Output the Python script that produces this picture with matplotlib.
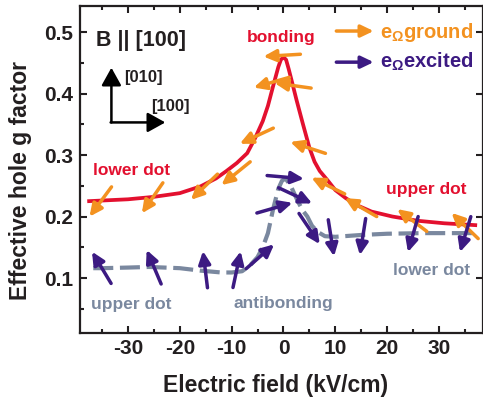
import numpy as np
import matplotlib
matplotlib.use('Agg')
import matplotlib.pyplot as plt
from matplotlib.ticker import MultipleLocator
from matplotlib.transforms import ScaledTranslation

plt.rcParams['font.family'] = ['Liberation Sans', 'DejaVu Sans']
plt.rcParams['font.weight'] = 'bold'
plt.rcParams['axes.unicode_minus'] = False
plt.rcParams['mathtext.fontset'] = 'custom'
plt.rcParams['mathtext.rm'] = 'Liberation Sans:bold'
plt.rcParams['mathtext.bf'] = 'Liberation Sans:bold'
plt.rcParams['mathtext.it'] = 'Liberation Sans:bold'

# bonding state (red, solid)
bond_field = [-37.5, -35, -30, -25, -20, -16, -13, -11, -9, -7, -5.5, -4, -3, -2, -1, -0.5,
              0, 0.5, 1, 1.7, 2.5, 3.7, 5, 6, 7, 8.5, 10, 12, 14, 17, 21, 26, 31, 37]
bond_g = [0.225, 0.226, 0.228, 0.232, 0.238, 0.249, 0.262, 0.274, 0.287, 0.303, 0.327, 0.355,
          0.380, 0.412, 0.443, 0.455, 0.459, 0.455, 0.440, 0.417, 0.390, 0.352, 0.312, 0.289,
          0.274, 0.259, 0.243, 0.230, 0.219, 0.208, 0.200, 0.193, 0.189, 0.186]

# antibonding state (grey, dashed)
anti_field = [-36.7, -35, -30, -26, -20, -16, -12, -10, -8, -6.5, -5, -4, -3, -2, -1, -0.3,
              0.4, 1.5, 2.7, 3.7, 4.6, 5.5, 6.6, 8, 10, 15, 20, 27, 36.7]
anti_g = [0.116, 0.116, 0.117, 0.118, 0.116, 0.112, 0.109, 0.109, 0.111, 0.120, 0.134, 0.150,
          0.173, 0.212, 0.245, 0.258, 0.262, 0.248, 0.226, 0.210, 0.200, 0.185, 0.175, 0.168,
          0.167, 0.170, 0.172, 0.173, 0.173]

# e_Omega direction arrows (angle on screen, degrees)
ground_field = [-35.3, -25.3, -15.3, -9.2, -5.2, -2.3, -0.3, 1.8, 4.7, 8.6, 14.9, 24.8, 35.0]
ground_g = [0.224, 0.230, 0.248, 0.270, 0.331, 0.418, 0.462, 0.413, 0.312, 0.250, 0.215, 0.194, 0.185]
ground_angle = [-126.5, -124.6, -136, -141, -155, -164, -176.5, 172, 162, 154, 150, 143, 136]

excited_field = [-35.1, -25.0, -15.1, -9.0, -4.5, -1.7, 0.4, 2.3, 5.0, 9.2, 15.3, 25.0, 35.1]
excited_g = [0.117, 0.118, 0.114, 0.114, 0.135, 0.214, 0.264, 0.234, 0.180, 0.165, 0.167, 0.171, 0.171]
excited_angle = [121, 113, 97, 78, 41, 16, -5, -25, -56, -81, -99, -106, -107]

red = '#e3102f'
orange = '#f39220'
purple = '#3c1a82'
grey = '#7a889f'
dark = '#231f20'

fig = plt.figure(figsize=(4.83, 4.01), dpi=100)
ax = fig.add_axes([80 / 483, 68 / 401, 402.5 / 483, 327 / 401])

ax.plot(anti_field, anti_g, color=grey, lw=3, dashes=(4.8, 1.6), zorder=2)
ax.plot(bond_field, bond_g, color=red, lw=2.7, zorder=2.1)

L = 0.37  # arrow length, inches
arrow_style = '-|>,head_length=0.75,head_width=0.36'


def spin_arrow(x, y, ang, color, z):
    a = np.deg2rad(ang)
    hx, hy = 0.5 * L * np.cos(a), 0.5 * L * np.sin(a)
    head = ax.transData + ScaledTranslation(hx, hy, fig.dpi_scale_trans)
    tail = ax.transData + ScaledTranslation(-hx, -hy, fig.dpi_scale_trans)
    ax.annotate('', xy=(x, y), xycoords=head, xytext=(x, y), textcoords=tail,
                arrowprops=dict(arrowstyle=arrow_style, color=color, lw=2.5,
                                shrinkA=0, shrinkB=0, mutation_scale=10), zorder=z)


for x, y, a in zip(ground_field, ground_g, ground_angle):
    spin_arrow(x, y, a, orange, 3)
for x, y, a in zip(excited_field, excited_g, excited_angle):
    spin_arrow(x, y, a, purple, 4)

ax.set_xlim(-39.26, 38.4)
ax.set_ylim(0.0106, 0.5423)
ax.xaxis.set_minor_locator(MultipleLocator(5))
ax.yaxis.set_minor_locator(MultipleLocator(0.05))
ax.set_xticks([-30, -20, -10, 0, 10, 20, 30])
ax.set_yticks([0.1, 0.2, 0.3, 0.4, 0.5])
ax.tick_params(which='both', direction='in', top=True, right=True, width=1.5, color=dark,
               labelsize=15, labelcolor=dark)
ax.tick_params(which='major', length=5)
ax.tick_params(which='minor', length=3)
ax.tick_params(axis='y', which='minor', right=False)
ax.tick_params(axis='x', pad=4.5)
ax.tick_params(axis='y', pad=5)
for s in ax.spines.values():
    s.set_linewidth(1.6)
    s.set_color(dark)

fig.text(276 / 483, 9 / 401, 'Electric field (kV/cm)', ha='center', va='baseline',
         fontsize=16.5, color=dark)
fig.text(21 / 483, 220 / 401, 'Effective hole g factor', ha='center', va='center',
         rotation=90, fontsize=16.5, color=dark)

ax.text(-0.5, 0.483, 'bonding', color=red, fontsize=12.5, ha='center', va='baseline')
ax.text(-29.3, 0.2667, 'lower dot', color=red, fontsize=12.5, ha='center', va='baseline')
ax.text(27.6, 0.236, 'upper dot', color=red, fontsize=12.5, ha='center', va='baseline')
ax.text(-29.3, 0.0504, 'upper dot', color=grey, fontsize=12.5, ha='center', va='baseline')
ax.text(0, 0.052, 'antibonding', color=grey, fontsize=12.5, ha='center', va='baseline')
ax.text(28.6, 0.1057, 'lower dot', color=grey, fontsize=12.5, ha='center', va='baseline')

ax.text(-27.4, 0.478, 'B || [100]', color=dark, fontsize=15.5, ha='center', va='baseline')
ax.text(-27.1, 0.418, '[010]', color=dark, fontsize=12, ha='center', va='baseline')
ax.text(-21.8, 0.372, '[100]', color=dark, fontsize=12, ha='center', va='baseline')
axes_style = dict(arrowstyle='-|>,head_length=0.9,head_width=0.5', color='black', lw=1.8,
                  shrinkA=0, shrinkB=0, mutation_scale=12)
ax.annotate('', xy=(-33.2, 0.442), xytext=(-33.2, 0.353), arrowprops=axes_style)
ax.annotate('', xy=(-22.8, 0.353), xytext=(-33.35, 0.353), arrowprops=axes_style)

leg_style = dict(arrowstyle=arrow_style, lw=2.5, shrinkA=0, shrinkB=0, mutation_scale=10)
ax.annotate('', xy=(17.4, 0.5016), xytext=(10.2, 0.5016), arrowprops=dict(color=orange, **leg_style))
ax.annotate('', xy=(17.4, 0.451), xytext=(10.2, 0.451), arrowprops=dict(color=purple, **leg_style))
ax.text(18.7, 0.491, r'e$_{\mathbf{\Omega}}$ground', color=orange, fontsize=14.5, va='baseline')
ax.text(18.7, 0.442, r'e$_{\mathbf{\Omega}}$excited', color=purple, fontsize=14.5, va='baseline')

fig.savefig('out.png', dpi=100)
